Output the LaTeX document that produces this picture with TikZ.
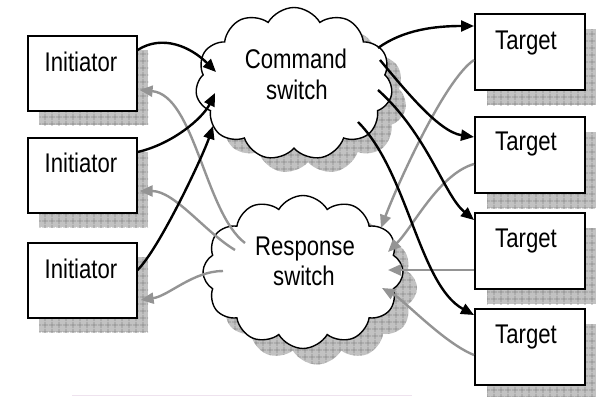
\documentclass[tikz,border=0pt]{standalone}
\usepackage{fontspec}
\setmainfont[FakeStretch=0.82]{Liberation Sans}
\usetikzlibrary{shapes.symbols,arrows.meta,patterns.meta,calc}
\definecolor{hatchfill}{gray}{0.76}
\definecolor{hatchline}{gray}{0.55}
\definecolor{rspgray}{gray}{0.58}
\definecolor{faintrule}{RGB}{238,226,238}
\begin{document}
\begin{tikzpicture}[x=1pt,y=-1pt,
  hatched/.style={preaction={fill=hatchfill},
    pattern={Hatch[angle=0,distance=6.5pt,line width=0.7pt]},pattern color=hatchline},
  box/.style={draw,line width=1.6pt,fill=white,minimum width=109pt,
    minimum height=75pt,anchor=north west,inner sep=0pt},
  tbox/.style={box,minimum width=110pt,minimum height=76pt},
  boxshadow/.style={hatched,minimum width=109pt,minimum height=75pt,
    anchor=north west,inner sep=0pt},
  tboxshadow/.style={boxshadow,minimum width=110pt,minimum height=76pt},
  cloudbase/.style={cloud,cloud puffs=11,cloud puff arc=120,cloud ignores aspect,
    inner sep=0pt,minimum width=197pt,minimum height=153pt},
  cloudshape/.style={cloudbase,draw,line width=1.4pt,fill=white},
  cloudshadow/.style={cloudbase,hatched},
  lbl/.style={font=\fontsize{27}{31}\selectfont,anchor=base,inner sep=0pt},
  tip/.style={-{Triangle[length=13pt,width=11pt]}},
  cmd/.style={tip,line width=2.4pt,black},
  rsp/.style={tip,line width=2.4pt,rspgray},
]
\useasboundingbox (0,0) rectangle (596,396);

% drop shadows
\node[boxshadow] (i1s) at (39,50) {};
\node[boxshadow] (i2s) at (39,152) {};
\node[boxshadow] (i3s) at (39,257) {};
\node[tboxshadow] (t1s) at (487,29) {};
\node[tboxshadow] (t2s) at (487,132) {};
\node[tboxshadow] (t3s) at (487,228) {};
\node[tboxshadow] (t4s) at (487,324) {};
\node[cloudshadow] (ccs) at (308,98) {};
\node[cloudshadow,cloud puffs=12,minimum width=200pt] (rcs) at (317,288) {};

% switches
\node[cloudshape] (cc) at (294,84) {};
\node[cloudshape,cloud puffs=12,minimum width=200pt] (rc) at (303,272) {};
\node[lbl] (cct1) at (296,68) {Command};
\node[lbl] (cct2) at (297,99) {switch};
\node[lbl] (rct1) at (305,255) {Response};
\node[lbl] (rct2) at (304,285) {switch};

% initiators
\node[box] (i1) at (27,35) {};
\node[box] (i2) at (27,137) {};
\node[box] (i3) at (27,242) {};
\node[lbl] (i1t) at (81,71) {Initiator};
\node[lbl] (i2t) at (81,172) {Initiator};
\node[lbl] (i3t) at (81,278) {Initiator};

% targets
\node[tbox] (t1) at (474,13) {};
\node[tbox] (t2) at (474,116) {};
\node[tbox] (t3) at (474,212) {};
\node[tbox] (t4) at (474,308) {};
\node[lbl] (t1t) at (526,49) {Target};
\node[lbl] (t2t) at (526,150) {Target};
\node[lbl] (t3t) at (526,247) {Target};
\node[lbl] (t4t) at (526,343) {Target};

% responses: targets -> response switch -> initiators
\draw[rsp] ($(t1.north west)+(0,47)$) .. controls +(-30,20) and +(15,-40) .. ($(rc)+(78,-44)$);
\draw[rsp] ($(t2.north west)+(0,48)$) .. controls +(-35,10) and +(25,-25) .. ($(rc)+(85,-20)$);
\draw[rsp] ($(t3.north west)+(0,58)$) -- ($(rc)+(85,-2)$);
\draw[rsp] ($(t4.north west)+(0,47)$) .. controls +(-30,-12) and +(22,12) .. ($(rc)+(79,16)$);
\draw[rsp] ($(rc)+(-58,-29)$) .. controls +(-40,-30) and +(55,5) .. ($(i1.north east)+(2,55)$);
\draw[rsp] ($(rc)+(-68,-22)$) .. controls +(-30,-18) and +(35,0) .. ($(i2.north east)+(2,54)$);
\draw[rsp] ($(rc)+(-80,-1)$) .. controls +(-30,0) and +(28,-4) .. ($(i3.north east)+(3,58)$);

% commands: initiators -> command switch -> targets
\draw[cmd] ($(i1.north east)+(0,15)$) .. controls +(25,-16) and +(-25,-25) .. ($(cc)+(-78,-12)$);
\draw[cmd] ($(i2.north east)+(0,15)$) .. controls +(35,-8) and +(-12,25) .. ($(cc)+(-79,9)$);
\draw[cmd] ($(i3.north east)+(0,28)$) .. controls +(22,-22) and +(-10,30) .. ($(cc)+(-81,42)$);
\draw[cmd] ($(cc)+(84,-36)$) .. controls +(25,-18) and +(-40,0) .. ($(t1.north west)+(0,13)$);
\draw[cmd] ($(cc)+(86,-24)$) .. controls +(25,30) and +(-35,-5) .. ($(t2.north west)+(0,21)$);
\draw[cmd] ($(cc)+(84,6)$) .. controls +(50,45) and +(-30,-25) .. ($(t3.north west)+(0,8)$);
\draw[cmd] ($(cc)+(64,38)$) .. controls +(50,50) and +(-55,-30) .. ($(t4.north west)+(0,7)$);

% faint rule along the bottom
\draw[faintrule,line width=1pt] (72,395) -- (412,395);
\end{tikzpicture}
\end{document}
